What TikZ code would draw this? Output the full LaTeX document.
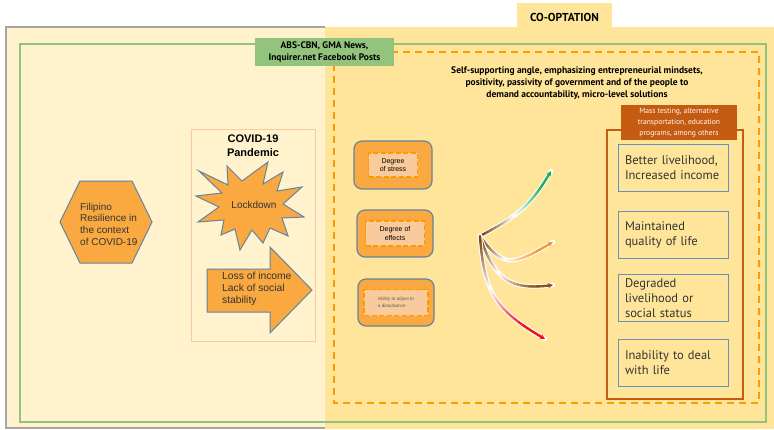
\documentclass[tikz,border=0pt]{standalone}
\usepackage{fontspec}
\setmainfont{Liberation Sans}
\newfontfamily\ptsans{PT Sans}
\usetikzlibrary{arrows.meta}

\definecolor{paleyellow}{HTML}{FFF2CC}
\definecolor{coopyellow}{HTML}{FFE599}
\definecolor{framegray}{HTML}{A6A6A6}
\definecolor{sourcegreen}{HTML}{93C47D}
\definecolor{dashorange}{HTML}{FF9900}
\definecolor{shapeorange}{HTML}{F9A940}
\definecolor{shapeblue}{HTML}{6384A3}
\definecolor{peach}{HTML}{F9CB9C}
\definecolor{lightorange}{HTML}{F9CB9C}
\definecolor{rustbrown}{HTML}{C55A11}
\definecolor{outcomeblue}{HTML}{6C8EBF}
\definecolor{darktext}{HTML}{333333}
\definecolor{stemBrown}{HTML}{7A4510}
\definecolor{arrGreen}{HTML}{1BAF62}
\definecolor{arrOrange}{HTML}{F29B3E}
\definecolor{arrBrown}{HTML}{8A5218}
\definecolor{arrRed}{HTML}{E8121B}

\tikzset{
  orangeshape/.style={fill=shapeorange, draw=shapeblue, line width=1pt},
  factorbox/.style={orangeshape, rounded corners=8pt, line width=1.2pt},
  factorlabel/.style={fill=peach, draw=dashorange, line width=1.4pt,
    dash pattern=on 5pt off 2.5pt, inner sep=0pt, align=center},
  outcome/.style={draw=outcomeblue, line width=1pt, minimum width=110pt,
    minimum height=47pt, text width=96pt, inner xsep=7pt, align=left,
    text=darktext, font=\ptsans\fontsize{12.5}{15}\selectfont},
  halo/.style={white, line width=4.4pt, line cap=round},
  brush/.style={line width=2.4pt, line cap=round},
}

% brush stroke: #1 from, #2 to, #3 out, #4 in, #5 colour, #6 looseness
\newcommand{\brushline}[6]{%
  \draw[halo] (#1) to[out=#3,in=#4,looseness=#6] (#2);
  \foreach \i in {0,...,24}{%
    \path (#1) to[out=#3,in=#4,looseness=#6] coordinate[pos=\i/24] (bp\i) (#2);
  }
  \foreach \i [evaluate=\i as \j using int(\i+1)] in {0,...,22}{%
    \ifnum\i<9
      \pgfmathsetmacro{\pc}{100-\i*11}%
      \draw[brush, stemBrown!\pc!white] (bp\i) -- (bp\j);
    \else
      \pgfmathsetmacro{\pc}{min(100,(\i-9)*100/11)}%
      \draw[brush, #5!\pc!white] (bp\i) -- (bp\j);
    \fi
  }
  \draw[brush, #5, -{Stealth[length=5pt,width=5pt]}] (bp23) -- (bp24);
}

\begin{document}
\begin{tikzpicture}[x=1pt,y=-1pt]
\useasboundingbox (0,0) rectangle (774,429);
\fill[white] (0,0) rectangle (774,429);

% regions
\fill[paleyellow] (6,27) rectangle (325,428);
\draw[framegray, line width=1.2pt] (325,27) -- (6,27) -- (6,428) -- (325,428);
\fill[coopyellow] (325,27) rectangle (774,429);
\fill[coopyellow] (517,3) rectangle (612,27);
\node[font=\ptsans\bfseries\fontsize{11.5}{13}\selectfont] (coop) at (564.5,17) {CO-OPTATION};

% frames
\draw[sourcegreen, line width=2pt] (20,44) rectangle (766,422);
\draw[dashorange, line width=1.6pt, dash pattern=on 7pt off 5pt] (334,52) rectangle (759,403);
\node[fill=sourcegreen, minimum width=139pt, minimum height=28pt, inner sep=1pt, align=center,
  font=\ptsans\bfseries\fontsize{9.5}{12}\selectfont] (source) at (324.5,52)
  {ABS-CBN, GMA News,\\Inquirer.net Facebook Posts};
\node[align=center, font=\ptsans\bfseries\fontsize{9.5}{12}\selectfont] (angle) at (577,83)
  {Self-supporting angle, emphasizing entrepreneurial mindsets,\\
   positivity, passivity of government and of the people to\\
   demand accountability, micro-level solutions};

% resilience hexagon
\draw[orangeshape] (60,222) -- (80,181) -- (132,181) -- (152,222) -- (132,263) -- (80,263) -- cycle;
\node[anchor=west, align=left, inner sep=0pt, font=\fontsize{10}{11.7}\selectfont, text=darktext]
  (resilience) at (80,224) {Filipino\\Resilience in\\the context\\of COVID-19};

% pandemic box
\draw[lightorange, line width=1pt] (191,129) rectangle (315,341);
\node[align=center, font=\bfseries\fontsize{11}{14}\selectfont] (pandemic) at (253,146) {COVID-19\\Pandemic};
\draw[orangeshape] (199,171) -- (228,185) -- (227,166) -- (242,181) -- (268,162) -- (263,184)
  -- (283,172) -- (277,191) -- (302,187) -- (283,204) -- (304,217) -- (282,218) -- (288,236)
  -- (270,228) -- (263,243) -- (252,230) -- (240,250) -- (235,229) -- (221,235) -- (224,220)
  -- (198,222) -- (219,207) -- (196,196) -- (222,193) -- cycle;
\node[font=\fontsize{10}{12}\selectfont, text=darktext] (lockdown) at (254,205) {Lockdown};
\draw[orangeshape] (207,269) -- (270,269) -- (270,247) -- (312,290) -- (270,333) -- (270,312) -- (207,312) -- cycle;
\node[anchor=west, align=left, inner sep=0pt, font=\fontsize{10.3}{12}\selectfont, text=darktext]
  (loss) at (222,289) {Loss of income\\Lack of social\\stability};

% factor boxes
\node[factorbox, minimum width=78pt, minimum height=48pt] (stress) at (393,165) {};
\node[factorlabel, minimum width=49pt, minimum height=24pt, font=\fontsize{7}{8.5}\selectfont]
  (stresslabel) at (stress.center) {Degree\\of stress};
\node[factorbox, minimum width=76pt, minimum height=47pt] (effects) at (395,233.5) {};
\node[factorlabel, minimum width=59pt, minimum height=25pt, font=\fontsize{7}{8.5}\selectfont]
  (effectslabel) at (effects.center) {Degree of\\effects};
\node[factorbox, minimum width=76pt, minimum height=47pt] (adjust) at (396,302.5) {};
\node[factorlabel, minimum width=64pt, minimum height=26pt, align=left, text=darktext!80,
  font=\fontsize{4.6}{6.5}\selectfont] (adjustlabel) at (adjust.center)
  {Ability to adjust to\\a disturbance\hspace{8pt}};

% brush strokes
\coordinate (fork) at (480,236);
\coordinate (toBetter) at (551,171);
\coordinate (toMaintained) at (553,242);
\coordinate (toDegraded) at (553,285);
\coordinate (toInability) at (545,339);
\brushline{fork}{toBetter}{28}{-120}{arrGreen}{1.1}
\brushline{fork}{toMaintained}{-55}{210}{arrOrange}{1.5}
\brushline{fork}{toDegraded}{-72}{188}{arrBrown}{1.3}
\brushline{fork}{toInability}{-86}{150}{arrRed}{1.2}

% outcomes
\draw[rustbrown, line width=1.5pt] (607,130) rectangle (743,399);
\node[fill=rustbrown, text=white, minimum width=116pt, minimum height=35pt, inner sep=1pt,
  align=center, font=\ptsans\fontsize{7.6}{11}\selectfont] (measures) at (679,122.5)
  {Mass testing, alternative\\transportation, education\\programs, among others};
\node[outcome] (better) at (673,167.5) {Better livelihood,\\Increased income};
\node[outcome] (maintained) at (673,235) {Maintained\\quality of life};
\node[outcome] (degraded) at (673,298) {Degraded\\livelihood or\\social status};
\node[outcome] (inability) at (673,362.5) {Inability to deal\\with life};
\end{tikzpicture}
\end{document}
